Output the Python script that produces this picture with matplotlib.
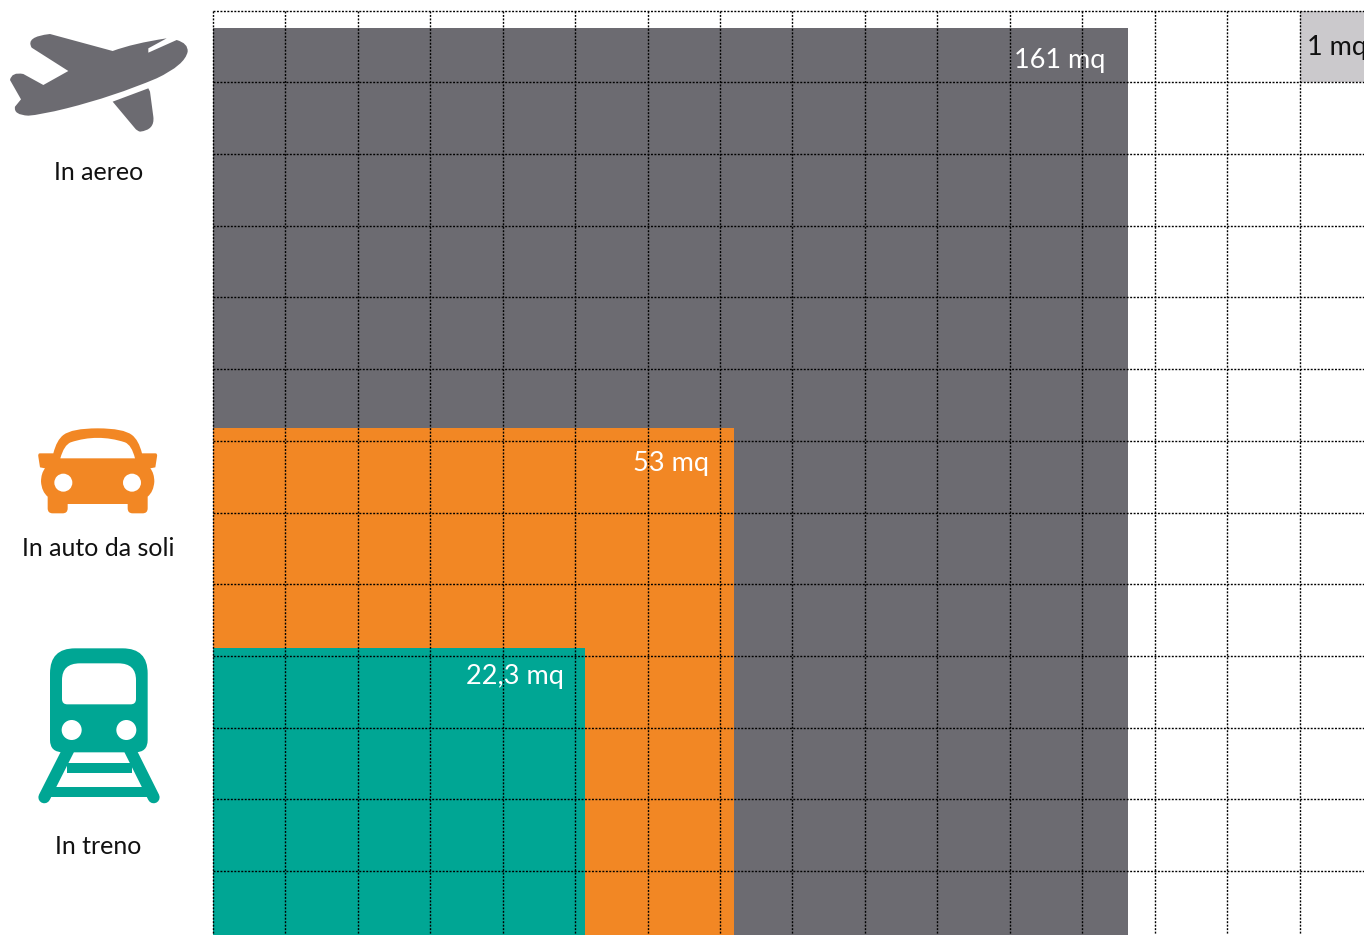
import matplotlib
matplotlib.use('Agg')
import matplotlib.pyplot as plt
from matplotlib.patches import Rectangle, PathPatch, Circle
from matplotlib.path import Path

plt.rcParams['font.family'] = ['Lato', 'DejaVu Sans']

# squares, in grid cells, anchored at the bottom left of the chart
labels = ['161 mq', '53 mq', '22,3 mq']
widths = [12.63, 7.19, 5.13]
heights = [12.65, 7.07, 4.0]
colors = ['#6c6b71', '#f28724', '#00a694']
label_x = [-22, -25, -21]
label_y = [-40, -43, -36]

modes = ['In aereo', 'In auto da soli', 'In treno']
mode_y = [173, 549, 847]

n_cols = 15.89
n_rows = 12.89

fig = plt.figure(figsize=(13.64, 9.35), dpi=100)

# icons and names on the left, drawn in pixels of the picture
left = fig.add_axes([0, 0, 1, 1])
left.set_xlim(0, 1364)
left.set_ylim(935, 0)
left.axis('off')


def shape(ax, cmds, color, dx=0, dy=0):
    # cmds use the 3x crop coordinates: (x, y) line, (cx, cy, x, y) curve
    verts = []
    codes = []
    for i, c in enumerate(cmds):
        if i == 0:
            verts.append(c)
            codes.append(Path.MOVETO)
        elif len(c) == 2:
            verts.append(c)
            codes.append(Path.LINETO)
        else:
            verts += [c[:2], c[2:]]
            codes += [Path.CURVE3, Path.CURVE3]
    verts = [(x / 3 + dx, y / 3 + dy) for x, y in verts]
    ax.add_patch(PathPatch(Path(verts, codes), fc=color, ec='none'))


gray = colors[0]
orange = colors[1]
green = colors[2]

# plane
shape(left, [(150, 102), (338, 153), (400, 130, 500, 115), (445, 145), (445, 158),
             (530, 120), (565, 130, 563, 155), (555, 195, 470, 235), (340, 290, 200, 325),
             (120, 345, 85, 347), (40, 345, 45, 320), (63, 298), (30, 240),
             (35, 215, 70, 222), (130, 255), (205, 213), (95, 143),
             (75, 110, 150, 102)], gray)
shape(left, [(338, 305), (445, 265), (450, 275), (460, 350), (465, 390, 420, 395),
             (410, 392, 405, 385), (338, 305)], gray)

# car, left half then mirrored around x=293
car_half = [(293, 55), (215, 55, 190, 75), (170, 90, 160, 130), (120, 130), (113, 130, 115, 140),
            (120, 172), (135, 175), (123, 190, 123, 215), (125, 245, 143, 260), (143, 295),
            (143, 310, 158, 310), (188, 310), (203, 310, 203, 295), (203, 282)]
mirror = []
for i in range(len(car_half) - 1, 0, -1):
    c = car_half[i]
    prev = car_half[i - 1][-2:]
    if len(c) == 2:
        mirror.append((586 - prev[0], prev[1]))
    else:
        mirror.append((586 - c[0], c[1], 586 - prev[0], prev[1]))
outline = car_half + [(586 - 203, 282)] + mirror
shape(left, outline, orange, dy=410)
shape(left, [(181, 145), (405, 145), (395, 105, 375, 97), (293, 70, 212, 97), (192, 105, 181, 145)],
      'white', dy=410)
left.add_patch(Circle((190 / 3, 410 + 218 / 3), 9, fc='white', ec='none'))
left.add_patch(Circle((396 / 3, 410 + 218 / 3), 9, fc='white', ec='none'))

# train
shape(left, [(225, 40), (368, 40), (443, 40, 443, 115), (443, 315), (443, 352, 405, 352),
             (190, 352), (150, 352, 150, 315), (150, 115), (150, 40, 225, 40)], green, dy=635)
shape(left, [(240, 85), (355, 85), (408, 85, 408, 135), (408, 192), (408, 208, 392, 208),
             (202, 208), (186, 208, 186, 192), (186, 135), (186, 85, 240, 85)], 'white', dy=635)
left.add_patch(Circle((215 / 3, 635 + 285 / 3), 10, fc='white', ec='none'))
left.add_patch(Circle((379 / 3, 635 + 285 / 3), 10, fc='white', ec='none'))
left.plot([205 / 3, 133 / 3], [635 + 345 / 3, 635 + 487 / 3], color=green, lw=8.6, solid_capstyle='round')
left.plot([390 / 3, 461 / 3], [635 + 345 / 3, 635 + 487 / 3], color=green, lw=8.6, solid_capstyle='round')
left.add_patch(Rectangle((50, 635 + 455 / 3), 99, 10, fc=green, ec='none'))
left.add_patch(Rectangle((67, 635 + 384 / 3), 65, 9.7, fc=green, ec='none'))

for name, y in zip(modes, mode_y):
    left.text(98.5, y, name, fontsize=18, color='#111111', ha='center', va='center')

# chart with the dotted grid
ax = fig.add_axes([213 / 1364, 0, (1364 - 213) / 1364, (935 - 10.5) / 935])
ax.set_xlim(0, n_cols)
ax.set_ylim(n_rows, 0)
ax.axis('off')
ax.patch.set_alpha(0)

for w, h, c, lab, lx, ly in zip(widths, heights, colors, labels, label_x, label_y):
    ax.add_patch(Rectangle((0, n_rows - h), w, h, fc=c, ec='none', zorder=1))
    ax.annotate(lab, xy=(w, n_rows - h), xytext=(lx, ly), textcoords='offset pixels',
                color='white', fontsize=19.5, ha='right', va='baseline', zorder=2)

ax.add_patch(Rectangle((15, 0), 1, 1, fc='#cbc9cc', ec='none', zorder=1))
ax.text(15.1, 0.62, '1 mq', color='#111111', fontsize=19.5, ha='left', va='baseline', zorder=2)

for i in range(16):
    ax.plot([i, i], [0, n_rows], color='black', lw=1.0, dashes=(1.4, 1.1), zorder=3, clip_on=False)
for j in range(13):
    ax.plot([0, n_cols], [j, j], color='black', lw=1.0, dashes=(1.4, 1.1), zorder=3, clip_on=False)

fig.savefig('out.png', dpi=100)
